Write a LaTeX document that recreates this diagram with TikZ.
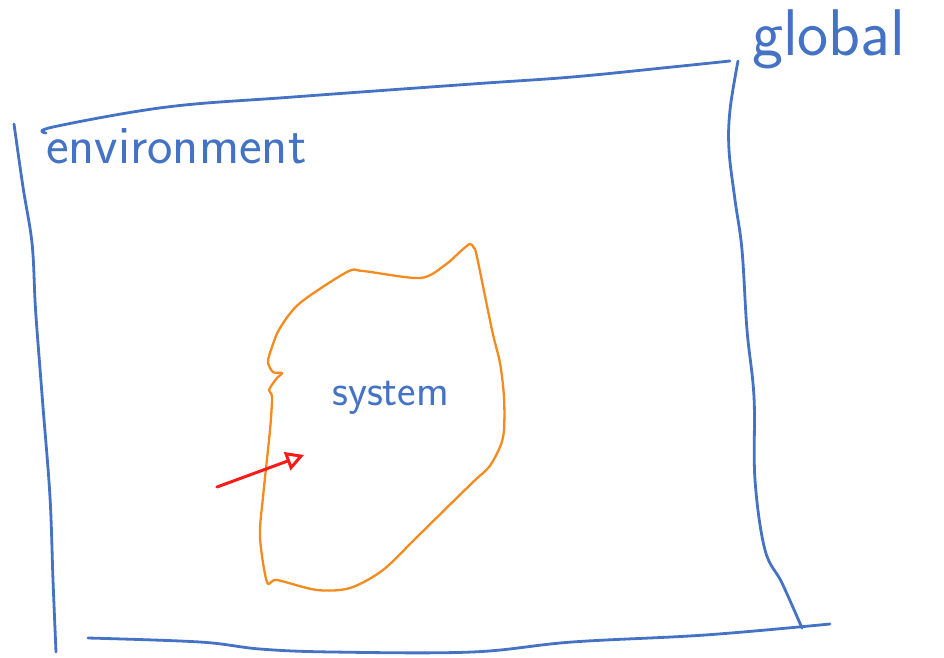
\documentclass[tikz,border=0pt]{standalone}
\usetikzlibrary{arrows.meta, positioning}
\definecolor{penblue}{HTML}{4472C4}
\definecolor{penorange}{HTML}{F58A1F}
\definecolor{penred}{HTML}{FF1A1A}

\begin{document}
\begin{tikzpicture}[
    x=1pt, y=-1pt,
    >=Stealth,
    font=\sffamily,
    every node/.style={inner sep=0pt},
    boundary/.style={
        draw=penblue, line width=2.8pt, line cap=round, line join=round
    },
    blob/.style={
        draw=penorange, line width=2.3pt, line join=round
    },
    pushline/.style={
        -{Triangle[open, length=18pt, width=19pt]},
        draw=penred, line width=3pt, line cap=round
    },
    handlabel/.style={text=penblue, anchor=base west},
]
\useasboundingbox (0,0) rectangle (944,657);

% === environment frame (hand drawn) ===
\draw[boundary] plot[smooth, tension=0.6] coordinates {
    (14,124) (23,187) (32,243) (35,300) (37,330) (43,407) (50,497) (53,580) (56,652)};
\draw[boundary] plot[smooth, tension=0.6] coordinates {
    (46,133) (53,127) (167,107) (293,97) (472,84) (572,77) (672,67) (730,61)};
\draw[boundary] plot[smooth, tension=0.6] coordinates {
    (738,61) (730,110) (729,150) (735,200) (742,250) (747,330) (754,397)
    (755,480) (765,550) (782,583) (802,628)};
\draw[boundary] plot[smooth, tension=0.6] coordinates {
    (88,638) (200,642) (260,649) (333,652) (472,652) (572,642) (705,635) (830,624)};

% === labels ===
\node[handlabel, font=\sffamily\fontsize{54}{56}\selectfont] (env) at (46,163) {environment};
\node[handlabel, font=\sffamily\fontsize{66}{68}\selectfont] (glob) at (752,55) {global};

% === system blob ===
\draw[blob] plot[smooth cycle, tension=0.5] coordinates {
    (280,328) (300,303) (347,272) (363,271) (420,278) (445,265) (462,250)
    (470,244) (474,248) (477,257) (492,330) (500,363) (504,397) (504,430)
    (500,447) (489,467) (472,483) (417,537) (383,570) (350,588) (317,590)
    (277,580) (267,582) (260,537) (263,497) (270,430) (272,397) (269,390)
    (277,378) (282,373) (273,372) (268,362) (272,347)};
\node[handlabel, font=\sffamily\fontsize{44}{46}\selectfont] (sys) at (332,405) {system};

% === push into the system ===
\coordinate (pushtail) at (217,487);
\coordinate (pushtip) at (304,455);
\draw[pushline] (pushtail) -- (pushtip);

\end{tikzpicture}
\end{document}
